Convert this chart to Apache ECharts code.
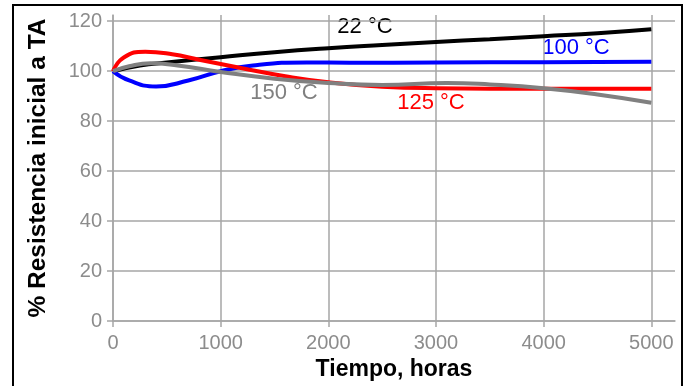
<!DOCTYPE html>
<html>
<head>
<meta charset="utf-8">
<script src="https://cdn.jsdelivr.net/npm/echarts@6/dist/echarts.min.js"></script>
<style>html,body{margin:0;padding:0;background:#fff}#c{width:690px;height:386px}</style>
</head>
<body>
<div id="c"></div>
<script>
const xTicks = [0, 1000, 2000, 3000, 4000, 5000];
const yTicks = [0, 20, 40, 60, 80, 100, 120];
const s22 = [[0,100],[250,102.3],[500,103.5],[1000,105.6],[1500,107.6],[2000,109.2],[2500,110.5],[3000,111.7],[3500,112.8],[4000,114],[4500,115.2],[5000,116.8]];
const s100 = [[0,100],[150,96.3],[400,93.9],[700,96.3],[1000,100],[1300,102.3],[1800,103.5],[2200,103.4],[3000,103.5],[4000,103.6],[5000,103.8]];
const s125 = [[0,100],[100,105.5],[300,107.8],[550,106.8],[800,104.6],[1200,101.2],[1600,98],[2000,95.6],[2500,93.8],[3000,93.2],[4000,93],[5000,93]];
const s150 = [[0,100],[150,102],[350,103.2],[600,102.3],[1000,99.7],[1500,97],[2000,95.3],[2500,94.5],[3100,95.3],[3500,94.7],[4000,93.2],[4500,90.7],[5000,87.4]];
const seriesNames = ['22 °C', '100 °C', '125 °C', '150 °C'];
const seriesColors = ['#000000', '#0000ff', '#ff0000', '#808080'];
const seriesData = [s22, s100, s125, s150];

const chart = echarts.init(document.getElementById('c'));
const gridCol = '#a6a6a6';
const labCol = '#8c8c8c';
const FF = 'Liberation Sans, Arial, sans-serif';
chart.setOption({
  animation: false,
  textStyle: { fontFamily: FF },
  grid: { left: 113, right: 15, top: 15, bottom: 59, containLabel: false },
  xAxis: {
    type: 'value', min: 0, max: 5220,
    name: 'Tiempo, horas', nameLocation: 'middle', nameGap: 28,
    nameTextStyle: { fontSize: 23, fontWeight: 'bold', color: '#000', fontFamily: FF },
    axisLine: { show: true, lineStyle: { color: gridCol, width: 1.5 } },
    axisTick: { show: true, length: 6, lineStyle: { color: gridCol, width: 1.5 }, customValues: xTicks },
    axisLabel: { color: labCol, fontSize: 20, margin: 12, customValues: xTicks, formatter: v => String(v), fontFamily: FF },
    splitLine: { show: true, lineStyle: { color: gridCol, width: 1.5 } }
  },
  yAxis: {
    type: 'value', min: 0, max: 122.5,
    name: '% Resistencia inicial a TA', nameLocation: 'middle', nameGap: 62,
    nameTextStyle: { fontSize: 24.5, fontWeight: 'bold', color: '#000', fontFamily: FF },
    axisLine: { show: true, lineStyle: { color: gridCol, width: 1.5 } },
    axisTick: { show: true, length: 6, lineStyle: { color: gridCol, width: 1.5 }, customValues: yTicks },
    axisLabel: { color: labCol, fontSize: 20, margin: 11, customValues: yTicks, formatter: v => String(v), fontFamily: FF },
    splitLine: { show: true, lineStyle: { color: gridCol, width: 1.5 } }
  },
  series: seriesData.map((d, i) => ({
    name: seriesNames[i], type: 'line', data: d, smooth: 0.5, showSymbol: false,
    lineStyle: { color: seriesColors[i], width: 4 }, z: 2 + i
  })),
  graphic: [
    { type: 'rect', shape: { x: 13, y: 5, width: 669, height: 400 }, style: { fill: 'none', stroke: '#000', lineWidth: 2 }, z: 100 },
    { type: 'text', x: 365, y: 27, style: { text: seriesNames[0], fill: '#000', font: '22px Liberation Sans', align: 'center', verticalAlign: 'middle' } },
    { type: 'text', x: 576, y: 48, style: { text: seriesNames[1], fill: '#0000ff', font: '22px Liberation Sans', align: 'center', verticalAlign: 'middle' } },
    { type: 'text', x: 431, y: 103, style: { text: seriesNames[2], fill: '#ff0000', font: '22px Liberation Sans', align: 'center', verticalAlign: 'middle' } },
    { type: 'text', x: 284, y: 93, style: { text: seriesNames[3], fill: '#808080', font: '22px Liberation Sans', align: 'center', verticalAlign: 'middle' } }
  ]
});
</script>
</body>
</html>
